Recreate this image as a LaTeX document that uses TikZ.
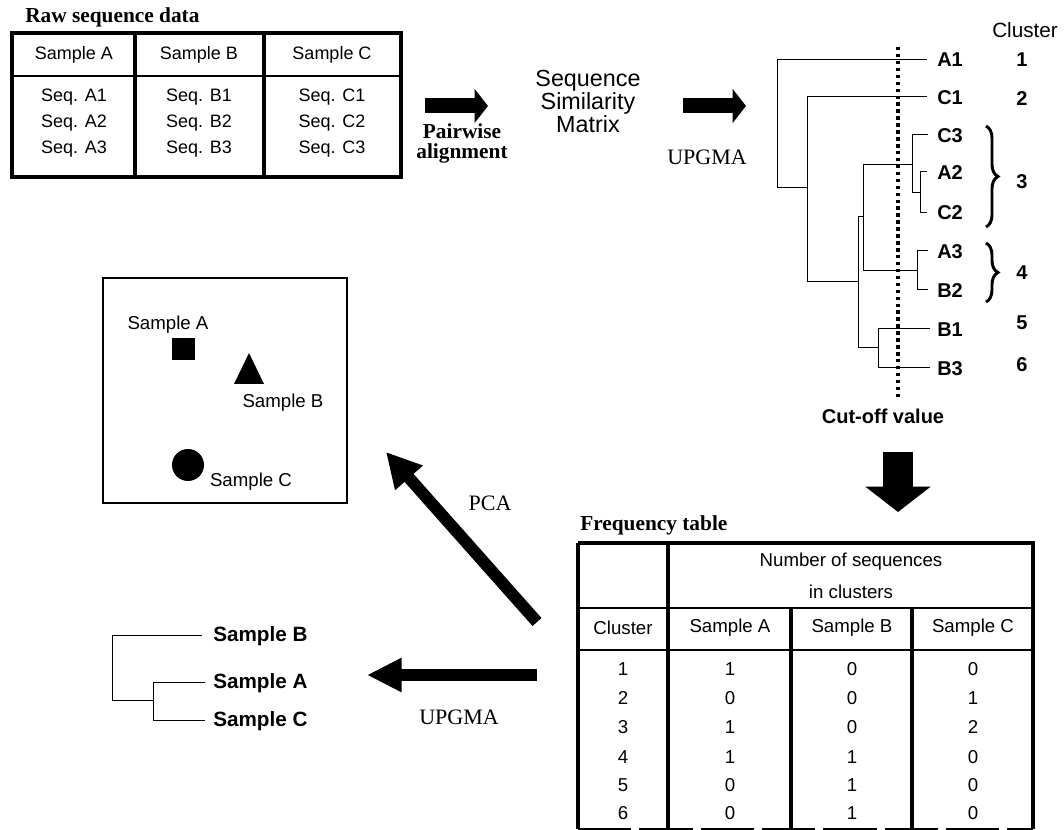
\documentclass[tikz,border=0pt]{standalone}
\usepackage{fontspec}
\setmainfont{Liberation Serif}
\setsansfont{Liberation Sans}
\usetikzlibrary{decorations.pathreplacing,arrows.meta}
\begin{document}
\begin{tikzpicture}[x=0.75pt,y=-0.75pt,
  tabtxt/.style={font=\sffamily\fontsize{13.5}{16}\selectfont},
  ftxt/.style={font=\sffamily\fontsize{14}{17}\selectfont},
  dlab/.style={font=\sffamily\bfseries\fontsize{15}{18}\selectfont,anchor=west,inner sep=0pt},
  cnum/.style={font=\sffamily\bfseries\fontsize{15}{18}\selectfont,inner sep=0pt},
  ttl/.style={font=\bfseries\fontsize{16}{19}\selectfont,inner sep=0pt},
  slbl/.style={font=\fontsize{16.5}{19}\selectfont,inner sep=0pt},
  tree/.style={line width=0.75pt},
  thickb/.style={line width=2.4pt},
  thinb/.style={line width=1.5pt},
  harrow/.style={line width=11.25pt,-{Triangle[width=25pt,length=10pt]}},
  pcaarrow/.style={line width=9pt,-{Triangle[width=26pt,length=26pt]}},
  larrow/.style={line width=9pt,-{Triangle[width=24pt,length=26pt]}},
  darrow/.style={line width=22pt,-{Triangle[width=48pt,length=19pt]}},
  brc/.style={decorate,decoration={brace,amplitude=9pt},line width=2.2pt}
]
\useasboundingbox (0,0) rectangle (1064,830);

% ---------- Raw sequence data ----------
\node[ttl,anchor=west] (rawt) at (25,17) {Raw sequence data};
\draw[thickb] (12,33) rectangle (401,177);
\draw[thickb] (135,33) -- (135,177);
\draw[thickb] (264,33) -- (264,177);
\draw[thinb] (12,76) -- (401,76);
\node[tabtxt] (hA) at (74,55) {Sample A};
\node[tabtxt] (hB) at (199,55) {Sample B};
\node[tabtxt] (hC) at (332,55) {Sample C};
\node[tabtxt] at (74,97) {Seq. A1};
\node[tabtxt] at (74,123) {Seq. A2};
\node[tabtxt] at (74,149) {Seq. A3};
\node[tabtxt] at (199,97) {Seq. B1};
\node[tabtxt] at (199,123) {Seq. B2};
\node[tabtxt] at (199,149) {Seq. B3};
\node[tabtxt] at (332,97) {Seq. C1};
\node[tabtxt] at (332,123) {Seq. C2};
\node[tabtxt] at (332,149) {Seq. C3};

% ---------- arrows top ----------
\coordinate (a1s) at (425,106);
\coordinate (a1e) at (488,106);
\draw[harrow] (a1s) -- (a1e);
\node[slbl,font=\bfseries\fontsize{16}{19}\selectfont] at (462,131) {Pairwise};
\node[slbl,font=\bfseries\fontsize{16}{19}\selectfont] at (462,153) {alignment};
\node[font=\sffamily\fontsize{17.5}{17.25}\selectfont,align=center] (ssm) at (588,101) {Sequence\\Similarity\\Matrix};
\coordinate (a2s) at (683,106);
\coordinate (a2e) at (746,106);
\draw[harrow] (a2s) -- (a2e);
\node[slbl] at (707,157) {UPGMA};

% ---------- dendrogram ----------
\node[font=\sffamily\fontsize{15.5}{18}\selectfont] at (1025,30) {Cluster};
\draw[tree] (927,60) -- (777,60) -- (777,188) -- (807,188);
\draw[tree] (927,97) -- (807,97) -- (807,282) -- (858,282);
\draw[tree] (863,217) -- (858,217) -- (858,348) -- (878,348);
\draw[tree] (912,165) -- (863,165) -- (863,271) -- (917,271);
\draw[tree] (928,135) -- (912,135) -- (912,193) -- (920,193);
\draw[tree] (927,172) -- (920,172) -- (920,213) -- (927,213);
\draw[tree] (928,251) -- (917,251) -- (917,290) -- (928,290);
\draw[tree] (930,329) -- (878,329) -- (878,368) -- (930,368);
\node[dlab] (A1) at (937,60) {A1};
\node[dlab] (C1) at (937,98) {C1};
\node[dlab] (C3) at (937,136) {C3};
\node[dlab] (A2) at (937,173) {A2};
\node[dlab] (C2) at (937,213) {C2};
\node[dlab] (A3) at (937,252) {A3};
\node[dlab] (B2) at (937,291) {B2};
\node[dlab] (B1) at (937,330) {B1};
\node[dlab] (B3) at (937,369) {B3};
\node[cnum] at (1022,60) {1};
\node[cnum] at (1022,99) {2};
\node[cnum] at (1022,182) {3};
\node[cnum] at (1022,273) {4};
\node[cnum] at (1022,323) {5};
\node[cnum] at (1022,365) {6};
\draw[brc] (986,126) -- (986,227);
\draw[brc] (986,243) -- (986,302);
\draw[line width=3pt,dash pattern=on 2.6pt off 2.6pt] (898,47) -- (898,398);
\node[font=\sffamily\bfseries\fontsize{15}{18}\selectfont] (cut) at (883,416) {Cut-off value};

% ---------- down arrow ----------
\coordinate (d1) at (898,452);
\coordinate (d2) at (898,512);
\draw[darrow] (d1) -- (d2);

% ---------- frequency table ----------
\node[ttl,anchor=west] (freqt) at (580,525) {Frequency table};
\draw[thickb] (578,543) -- (1033,543) -- (1033,829);
\draw[thickb] (578,543) -- (578,829);
\draw[thickb] (668,543) -- (668,829);
\draw[thickb] (791,608) -- (791,829);
\draw[thickb] (912,608) -- (912,829);
\draw[thinb] (578,608) -- (1033,608);
\draw[thinb] (578,650) -- (1033,650);
\draw[thinb,dash pattern=on 40pt off 6pt] (578,829) -- (1033,829);
\node[ftxt] at (851,562) {Number of sequences};
\node[ftxt] at (851,592) {in clusters};
\node[ftxt] (fc) at (623,628) {Cluster};
\node[ftxt] (fa) at (730,628) {Sample A};
\node[ftxt] (fb) at (852,628) {Sample B};
\node[ftxt] (fcc) at (973,628) {Sample C};
\foreach \r/\y/\a/\b/\c in {1/669/1/0/0, 2/698/0/0/1, 3/727/1/0/2, 4/757/1/1/0, 5/785/0/1/0, 6/813/0/1/0}{
  \node[ftxt] at (623,\y) {\r};
  \node[ftxt] at (730,\y) {\a};
  \node[ftxt] at (852,\y) {\b};
  \node[ftxt] at (973,\y) {\c};
}

% ---------- PCA plot ----------
\draw[line width=1pt] (103,278) rectangle (347,503);
\node[ftxt] (sA) at (168,325) {Sample A};
\fill (172,338) rectangle (195,360);
\fill (249,353) -- (264,384) -- (234,384) -- cycle;
\node[ftxt] (sB) at (283,403) {Sample B};
\fill (188,465) circle (16);
\node[ftxt] (sC) at (251,482) {Sample C};

% ---------- PCA / UPGMA arrows ----------
\coordinate (p1) at (537,622);
\coordinate (p2) at (386,452);
\draw[pcaarrow] (p1) -- (p2);
\node[slbl] at (490,503) {PCA};
\coordinate (u1) at (537,675);
\coordinate (u2) at (367,675);
\draw[larrow] (u1) -- (u2);
\node[slbl] at (459,717) {UPGMA};

% ---------- sample dendrogram ----------
\draw[tree] (202,635) -- (112,635) -- (112,700) -- (153,700);
\draw[tree] (205,682) -- (153,682) -- (153,720) -- (205,720);
\node[dlab,font=\sffamily\bfseries\fontsize{15.5}{18}\selectfont] (tB) at (213,636) {Sample B};
\node[dlab,font=\sffamily\bfseries\fontsize{15.5}{18}\selectfont] (tA) at (213,683) {Sample A};
\node[dlab,font=\sffamily\bfseries\fontsize{15.5}{18}\selectfont] (tC) at (213,721) {Sample C};
\end{tikzpicture}
\end{document}
